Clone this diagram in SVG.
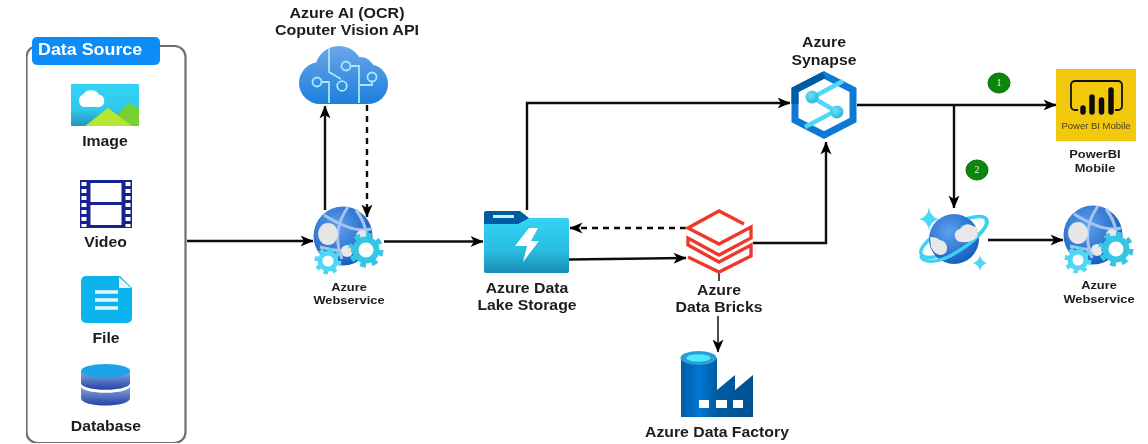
<svg xmlns="http://www.w3.org/2000/svg" xmlns:xlink="http://www.w3.org/1999/xlink" width="1148" height="444" viewBox="0 0 1148 444">
<style>
text{font-family:"Liberation Sans",Arial,sans-serif;font-weight:700;fill:#1c1c1c;text-anchor:middle}
.l,.s,.h,.ds{transform-box:fill-box;transform-origin:center;transform:scaleX(1.090)}
.l{font-size:14.500px}
.h{font-size:14.700px}
.s{font-size:11.800px}
.ds{font-size:16.400px;fill:#fff;text-anchor:start;transform-origin:0% 50%}
.c{fill:none;stroke:#111;stroke-width:2.400}
.t{fill:none;stroke:#111;stroke-width:1.500}
.d{stroke-dasharray:6 5}
.b{fill:#0b860b;stroke:#0a6f0a;stroke-width:1}
.n{font-family:"Liberation Serif",serif;font-weight:400;font-size:10px;fill:#e8f5e8}
</style>
<defs>
<filter id="soft" x="0" y="0" width="100%" height="100%"><feGaussianBlur stdDeviation="0.400"/></filter>
<marker id="a" markerUnits="userSpaceOnUse" markerWidth="15" markerHeight="14" refX="12.500" refY="6" orient="auto"><path d="M0 0.500 L13 6 L0 11.500 L3.500 6Z" fill="#000"/></marker>
<linearGradient id="sky" x1="0" y1="0" x2="0" y2="1"><stop offset="0" stop-color="#32d4f5"/><stop offset="0.600" stop-color="#32c8ec"/><stop offset="1" stop-color="#2196bd"/></linearGradient>
<linearGradient id="cloud" gradientUnits="userSpaceOnUse" x1="0" y1="46" x2="0" y2="104"><stop offset="0" stop-color="#6aa6ea"/><stop offset="1" stop-color="#1c7fdc"/></linearGradient>
<linearGradient id="db" x1="0" y1="0" x2="0" y2="1"><stop offset="0" stop-color="#8aa9e0"/><stop offset="1" stop-color="#2442a8"/></linearGradient>
<linearGradient id="fol" x1="0" y1="0" x2="0" y2="1"><stop offset="0" stop-color="#32d4f5"/><stop offset="0.600" stop-color="#29bde0"/><stop offset="1" stop-color="#198ab3"/></linearGradient>
<linearGradient id="fac" x1="0" y1="0" x2="1" y2="0"><stop offset="0" stop-color="#005ba1"/><stop offset="0.250" stop-color="#0078d4"/><stop offset="0.500" stop-color="#005ba1"/><stop offset="1" stop-color="#00528f"/></linearGradient>
<radialGradient id="ball" cx="0.400" cy="0.350" r="0.750"><stop offset="0" stop-color="#5ea0ef"/><stop offset="1" stop-color="#0b56b8"/></radialGradient>
<radialGradient id="dot" cx="0.400" cy="0.350" r="0.700"><stop offset="0" stop-color="#6fe0f7"/><stop offset="1" stop-color="#22b6dc"/></radialGradient>
<g id="web">
<circle cx="29" cy="27" r="29.500" fill="url(#ball)"/>
<path d="M10 6 C26 16 44 24 57 20 M34 -2 C24 12 20 30 28 50 M42 1 C50 12 54 22 52 40 M6 38 C22 42 34 44 46 38" fill="none" stroke="#a8c4ee" stroke-width="3"/>
<ellipse cx="14" cy="25" rx="10" ry="11" fill="#e6e6e6"/>
<circle cx="33" cy="42" r="6" fill="#e6e6e6"/>
<circle cx="48" cy="27" r="6" fill="#e6e6e6"/>
<circle cx="52" cy="41" r="10.500" fill="#fff" stroke="#35c6e6" stroke-width="6"/>
<circle cx="52" cy="41" r="15" fill="none" stroke="#35c6e6" stroke-width="5" pathLength="16" stroke-dasharray="1 1"/>
<circle cx="14" cy="52" r="8" fill="#fff" stroke="#50d8f5" stroke-width="5"/>
<circle cx="14" cy="52" r="11.500" fill="none" stroke="#50d8f5" stroke-width="4" pathLength="16" stroke-dasharray="1 1"/>
</g>
</defs>
<rect width="1148" height="444" fill="#fff"/>
<g filter="url(#soft)">
<g id="connectors">
<path class="c" d="M187 241H313" marker-end="url(#a)"/>
<path class="c" d="M325 210V106" marker-end="url(#a)"/>
<path class="c d" d="M367 105V217" marker-end="url(#a)"/>
<path class="c" d="M384 241.500H483" marker-end="url(#a)"/>
<path class="c" d="M527 210V103H790" marker-end="url(#a)"/>
<path class="c d" d="M686 228H570" marker-end="url(#a)"/>
<path class="c" d="M569 259.500L686 258" marker-end="url(#a)"/>
<path class="c" d="M753 243H826V142" marker-end="url(#a)"/>
<path class="t" d="M719 273V281"/>
<path class="t" d="M718 316V352" marker-end="url(#a)"/>
<path class="c" d="M857 105H1056" marker-end="url(#a)"/>
<path class="c" d="M954 105V208" marker-end="url(#a)"/>
<path class="c" d="M988 240H1063" marker-end="url(#a)"/>
</g>

<g id="data-source">
<rect x="26.500" y="46" width="159" height="397" rx="11" fill="none" stroke="#6e6e6e" stroke-width="2.200"/>
<rect x="32" y="37" width="128" height="28" rx="5" fill="#0a8cf5"/>
<text class="ds" x="38" y="55">Data Source</text>
</g>
<g id="image">
<rect x="71" y="84" width="68" height="42" rx="1" fill="url(#sky)"/>
<path d="M108 126 L128 103 L139 108 V126Z" fill="#76d22f"/>
<path d="M85 126 L108 108 L132 126Z" fill="#b5e630"/>
<path d="M84 107 a6 6.500 0 0 1 -1 -12.500 a9 8 0 0 1 16 0 a6.500 6.500 0 0 1 1 12.500Z" fill="#fff"/>
<text class="l" x="105" y="146">Image</text>
</g>
<g id="video">
<path d="M84 180V228M128 180V228" fill="none" stroke="#15208f" stroke-width="8"/>
<path d="M84 182V227M128 182V227" fill="none" stroke="#fff" stroke-width="5" stroke-dasharray="4 3"/>
<rect x="89" y="181.500" width="34" height="45" fill="#fff" stroke="#15208f" stroke-width="3"/>
<path d="M89 203.500H123" stroke="#15208f" stroke-width="3"/>
<text class="l" x="105.500" y="247">Video</text>
</g>
<g id="file">
<path d="M86 276H120L132 288V318a5 5 0 0 1-5 5H86a5 5 0 0 1-5-5V281a5 5 0 0 1 5-5Z" fill="#0ab4ec"/>
<path d="M119 277L131 288H119Z" fill="#e8f6fc"/>
<path d="M95 292H118M95 300H118M95 308H118" stroke="#e8f6fc" stroke-width="3.500"/>
<text class="l" x="106" y="343">File</text>
</g>
<g id="database">
<path d="M81 371V383C81 392 130 392 130 383V371Z" fill="url(#db)"/>
<path d="M81 386C81 395 130 395 130 386V398C130 408 81 408 81 398Z" fill="url(#db)"/>
<ellipse cx="105.500" cy="371" rx="24.500" ry="7" fill="#1fa3e8"/>
<text class="l" x="106" y="431">Database</text>
</g>

<g id="azure-ai">
<g fill="url(#cloud)">
<circle cx="320" cy="83" r="21"/><circle cx="339" cy="70" r="24"/><circle cx="360" cy="72" r="15"/><circle cx="368" cy="84" r="20"/>
<rect x="320" y="70" width="48" height="34"/>
</g>
<g fill="none" stroke="#a8e8fa" stroke-width="1.800">
<path d="M329 48V72L341 79M321.500 82H329V103M350.500 66H359V103M372 81.500V85H360"/>
<circle cx="317" cy="82" r="4.500"/><circle cx="342" cy="86" r="4.800"/><circle cx="346" cy="66" r="4.500"/><circle cx="372" cy="77" r="4.500"/>
</g>
<text class="h" x="347" y="18">Azure AI (OCR)</text>
<text class="h" x="347" y="35">Coputer Vision API</text>
</g>
<g id="webservice-1">
<use xlink:href="#web" href="#web" x="314" y="209"/>
<text class="s" x="349" y="291">Azure</text>
<text class="s" x="349" y="304">Webservice</text>
</g>
<g id="data-lake">
<rect x="484" y="218" width="85" height="55" rx="2" fill="url(#fol)"/>
<path d="M484 224V213a2 2 0 0 1 2-2H520L529 218L518 224Z" fill="#005ba1"/>
<rect x="493" y="215" width="21" height="3" fill="#cfeef9"/>
<path d="M529 228H538L531 241H539L523 262L527 246H515Z" fill="#fff"/>
<text class="l" x="527" y="293">Azure Data</text>
<text class="l" x="527" y="310">Lake Storage</text>
</g>
<g id="databricks">
<path d="M744 224L719 211L688 228L719 244L751 227V238L719 255L688 238V245L719 262L751 245V256L719 272L688 257" fill="none" stroke="#f0392b" stroke-width="3.400"/>
<text class="l" x="719" y="295">Azure</text>
<text class="l" x="719" y="312">Data Bricks</text>
</g>
<g id="data-factory">
<path d="M681 358V417H753V375L735 390V375L717 390V358Z" fill="url(#fac)"/>
<ellipse cx="698.500" cy="358" rx="18" ry="7" fill="#2a9fd6"/>
<ellipse cx="698.500" cy="358" rx="12" ry="3.800" fill="#50e6ff"/>
<path d="M699 400h10v8h-10zM716 400h11v8h-11zM733 400h10v8h-10z" fill="#fff"/>
<text class="l" x="717" y="437">Azure Data Factory</text>
</g>
<g id="synapse">
<path d="M824 75L853 90V120L824 135L795 120V90Z" fill="#fff" stroke="#0a7ad6" stroke-width="7"/>
<path d="M824 75L795 90V104" fill="none" stroke="#005ba1" stroke-width="7"/>
<path d="M808 100L843 81M805 127L841 108M812 97L837 112" stroke="#50d8f5" stroke-width="4.500" fill="none"/>
<circle cx="812" cy="97" r="6.500" fill="url(#dot)"/>
<circle cx="837" cy="112" r="6.500" fill="url(#dot)"/>
<text class="l" x="824" y="47">Azure</text>
<text class="l" x="824" y="65">Synapse</text>
</g>
<g id="powerbi">
<rect x="1056" y="69" width="80" height="72" fill="#f2c811"/>
<path d="M1078 110H1075a4 4 0 0 1-4-4V85a4 4 0 0 1 4-4H1118a4 4 0 0 1 4 4V106a4 4 0 0 1-4 4H1115" fill="none" stroke="#111" stroke-width="1.800"/>
<path d="M1083 112V108M1092 112V97M1101.500 112V100M1111 112V90" stroke="#111" stroke-width="5.500" stroke-linecap="round"/>
<text x="1096" y="129" style="font-size:9.500px;font-weight:400;fill:#4a4020">Power BI Mobile</text>
<text class="s" x="1095" y="158">PowerBI</text>
<text class="s" x="1095" y="172">Mobile</text>
</g>
<g id="badge-1"><ellipse class="b" cx="999" cy="83" rx="11" ry="10"/><text class="n" x="999" y="86">1</text></g>
<g id="badge-2"><ellipse class="b" cx="977" cy="170" rx="11" ry="10"/><text class="n" x="977" y="173">2</text></g>
<g id="cosmos">
<ellipse cx="954" cy="237" rx="37" ry="12" transform="rotate(-28 954 237)" fill="none" stroke="#3fd0f0" stroke-width="3.500"/>
<circle cx="954" cy="239" r="25" fill="url(#ball)"/>
<path d="M986 219C990 228 972 244 950 256C934 264 922 262 921 256" fill="none" stroke="#3fd0f0" stroke-width="3.500"/>
<path d="M955 237a6 6 0 0 1 5-8a9 9 0 0 1 13-3a6 6 0 0 1 5 6q0 6-5 8q-5 3-11 2a7 7 0 0 1-7-5Z" fill="#e8e8e8"/>
<path d="M930 237a13 13 0 0 1 10 3a8 8 0 0 1 7 9q0 5-6 6c-4 0-8-3-10-8Z" fill="#e8e8e8"/>
<path d="M929 207Q930 217 939 219Q930 221 929 231Q928 221 919 219Q928 217 929 207Z" fill="#50d8f5"/>
<path d="M980 255Q981 261 987 263Q981 265 980 271Q979 265 973 263Q979 261 980 255Z" fill="#50d8f5"/>
</g>
<g id="webservice-2">
<use xlink:href="#web" href="#web" x="1064" y="208"/>
<text class="s" x="1099" y="289">Azure</text>
<text class="s" x="1099" y="303">Webservice</text>
</g>
</g>
</svg>
